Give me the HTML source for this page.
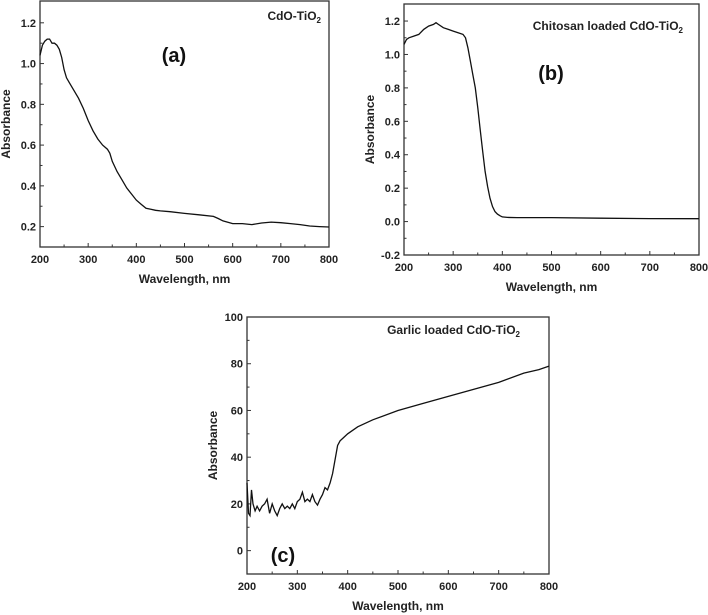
<!DOCTYPE html>
<html><head><meta charset="utf-8"><style>
body{margin:0;background:#fff;}
svg{display:block;font-family:"Liberation Sans",Arial,sans-serif;}
.t{font-size:11px;font-weight:bold;fill:#222;}
.ti{font-size:12px;font-weight:bold;fill:#222;}
</style></head><body>
<svg id="s" width="708" height="615"></svg>
<script>
// Panel (a) data
const aX=[200,205,210,215,220,225,230,235,240,245,250,255,260,270,280,290,300,310,320,330,340,345,350,360,370,380,390,400,410,420,430,440,450,470,500,530,560,570,580,600,620,640,660,680,700,720,740,760,780,800];
const aY=[1.04,1.09,1.11,1.12,1.12,1.10,1.10,1.09,1.07,1.03,0.97,0.93,0.91,0.87,0.83,0.78,0.72,0.67,0.63,0.60,0.58,0.56,0.52,0.47,0.43,0.39,0.36,0.33,0.31,0.29,0.285,0.28,0.277,0.273,0.265,0.258,0.25,0.24,0.228,0.215,0.215,0.21,0.218,0.222,0.219,0.215,0.21,0.203,0.2,0.198];
// Panel (b) data
const bX=[200,205,210,220,230,240,250,260,265,270,280,290,300,310,320,325,330,335,340,345,350,355,360,365,370,375,380,385,390,395,400,410,430,500,600,700,800];
const bY=[1.06,1.09,1.10,1.11,1.12,1.15,1.17,1.18,1.19,1.18,1.16,1.15,1.14,1.13,1.12,1.10,1.04,0.96,0.88,0.80,0.68,0.55,0.42,0.30,0.21,0.14,0.09,0.06,0.045,0.035,0.028,0.025,0.024,0.024,0.02,0.018,0.017];
// Panel (c) data
const cX=[200,203,206,209,212,216,220,225,230,235,240,245,250,255,260,265,270,275,280,285,290,295,300,305,310,315,320,325,330,335,340,345,350,355,360,365,370,375,380,385,390,400,420,450,500,550,600,650,700,750,780,800];
const cY=[29,16,15,26,20,17,19,17,19,20,22,16,20,17,15,18,20,18,19,18,20,18,21,22,25,21,22,21,24,21,19.5,22,24,27,26,29,33,39,45,47,48,50,53,56,60,63,66,69,72,76,77.5,79];
const xTicks=[200,300,400,500,600,700,800];
const aTicks=[0.2,0.4,0.6,0.8,1.0,1.2];
const bTicks=[-0.2,0.0,0.2,0.4,0.6,0.8,1.0,1.2];
const cTicks=[0,20,40,60,80,100];

const NS="http://www.w3.org/2000/svg";
const svg=document.getElementById('s');
function el(tag,attrs,parent,text){const e=document.createElementNS(NS,tag);for(const k in attrs)e.setAttribute(k,attrs[k]);if(text!==undefined)e.textContent=text;(parent||svg).appendChild(e);return e;}

function panel(id,L,R,T,B,ymin,ymax,yT,dec,xs,ys,title,letter,lx,ly,tx,ty){
  const g=el('g',{});
  
  
  const sx=v=>L+(v-200)/600*(R-L);
  const sy=v=>B-(v-ymin)/(ymax-ymin)*(B-T);
  const frame=el('rect',{x:L,y:T,width:R-L,height:B-T,fill:'none',stroke:'#333','stroke-width':1.3},g);
  
  
  for(let v=200;v<=800;v+=50){const x=sx(v);el('line',{x1:x,x2:x,y1:B,y2:B-(v%100?2.5:4),stroke:'#333'},g);}
  xTicks.forEach(v=>{const t=el('text',{x:sx(v),y:B+16,'text-anchor':'middle',class:'t'},g,String(v));
    });
  yT.forEach((v,i)=>{const y=sy(v);el('line',{x1:L,x2:L+4,y1:y,y2:y,stroke:'#333'},g);
    if(i<yT.length-1){const m=sy(v+(yT[1]-yT[0])/2);el('line',{x1:L,x2:L+2.5,y1:m,y2:m,stroke:'#333'},g);}
    const t=el('text',{x:L-4,y:y+4,'text-anchor':'end',class:'t'},g,dec?v.toFixed(1):String(v));
    });
  const xt=el('text',{x:(L+R)/2,y:B+36,'text-anchor':'middle',class:'ti'},g,'Wavelength, nm');
  
  const yt=el('text',{x:0,y:0,'text-anchor':'middle',class:'ti',transform:`translate(${L-30},${(T+B)/2}) rotate(-90)`},g,'Absorbance');
  
  const p=el('path',{d:xs.map((v,i)=>(i?'L':'M')+sx(v).toFixed(1)+','+sy(ys[i]).toFixed(1)).join(''),fill:'none',stroke:'#111','stroke-width':1.3},g);
  
  const tt=el('text',{x:tx,y:ty,'text-anchor':'end',class:'ti','font-size':'11px'},g);
  
  el('tspan',{},tt,title);el('tspan',{'font-size':'8px',dy:'3'},tt,'2');
  const lt=el('text',{x:lx,y:ly,'text-anchor':'middle','font-size':'20px','font-weight':'bold',fill:'#111'},g,'('+letter+')');
  
}
panel('a',40,329,1,247,0.1,1.307,aTicks,true,aX,aY,'CdO-TiO',"a",174,62,321,20);
panel('b',404,699,4,255,-0.2,1.302,bTicks,true,bX,bY,'Chitosan loaded CdO-TiO',"b",551,80,683,30);
panel('c',247,549,317,574,-10,100,cTicks,false,cX,cY,'Garlic loaded CdO-TiO',"c",283,562,520,334);
</script>
</body></html>
